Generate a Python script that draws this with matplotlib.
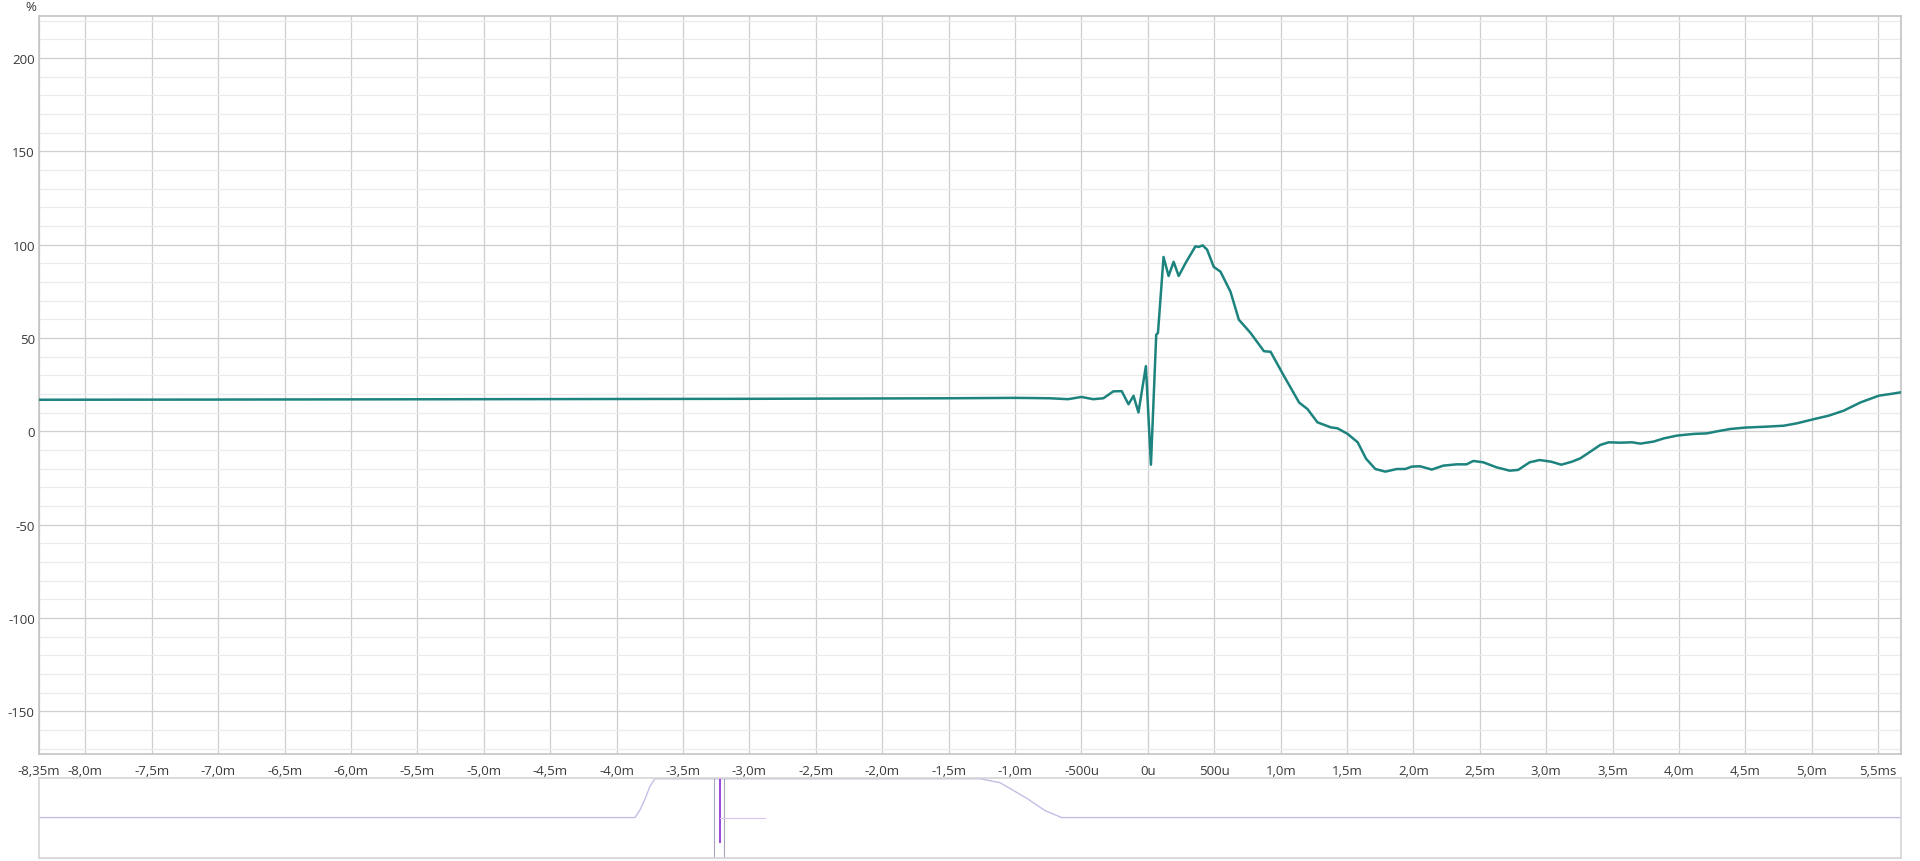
import matplotlib.pyplot as plt
import numpy as np
from matplotlib.ticker import MultipleLocator, FixedLocator

plt.rcParams["font.family"] = ["Open Sans", "DejaVu Sans"]
plt.rcParams["axes.unicode_minus"] = False

# main trace: time in ms, level in %
t_ms = [-8.35, -7.0, -6.0, -5.0, -4.0, -3.0, -2.0, -1.5, -1.0, -0.85, -0.739, -0.601,
        -0.5, -0.412, -0.335, -0.26, -0.197, -0.146, -0.108, -0.071, -0.015, 0.023,
        0.063, 0.076, 0.118, 0.156, 0.194, 0.232, 0.282, 0.358, 0.383, 0.413, 0.446,
        0.496, 0.547, 0.622, 0.685, 0.773, 0.874, 0.924, 1.025, 1.139, 1.202, 1.277,
        1.378, 1.428, 1.504, 1.58, 1.643, 1.713, 1.788, 1.875, 1.938, 1.988, 2.05,
        2.138, 2.225, 2.325, 2.4, 2.45, 2.525, 2.625, 2.725, 2.788, 2.875, 2.95,
        3.038, 3.113, 3.193, 3.256, 3.332, 3.407, 3.47, 3.558, 3.646, 3.709, 3.809,
        3.885, 3.985, 4.111, 4.211, 4.287, 4.387, 4.5, 4.663, 4.789, 4.889, 5.0,
        5.128, 5.241, 5.367, 5.505, 5.593, 5.671]
level = [16.9, 17.0, 17.1, 17.2, 17.3, 17.4, 17.6, 17.7, 17.9, 17.8, 17.7, 17.2,
         18.4, 17.2, 17.7, 21.4, 21.5, 14.5, 19.0, 10.1, 34.9, -17.9,
         51.8, 52.7, 93.4, 83.2, 90.8, 83.2, 89.9, 99.1, 98.8, 99.6, 97.3,
         88.1, 85.5, 74.8, 59.8, 52.7, 42.9, 42.6, 29.6, 15.4, 11.9, 4.8,
         2.1, 1.6, -1.4, -5.9, -14.7, -20.2, -21.6, -20.2, -20.2, -18.9, -18.75,
         -20.5, -18.4, -17.7, -17.7, -15.9, -16.6, -19.3, -21.1, -20.7, -16.6, -15.4,
         -16.3, -17.9, -16.3, -14.5, -10.9, -7.3, -5.9, -6.1, -5.9, -6.6, -5.5,
         -3.8, -2.3, -1.4, -1.1, 0.0, 1.25, 2.0, 2.5, 3.0, 4.3, 6.25,
         8.4, 11.1, 15.5, 19.1, 20.0, 20.9]

x_ticks = [-8.35, -8.0, -7.5, -7.0, -6.5, -6.0, -5.5, -5.0, -4.5, -4.0, -3.5, -3.0,
           -2.5, -2.0, -1.5, -1.0, -0.5, 0.0, 0.5, 1.0, 1.5, 2.0, 2.5, 3.0, 3.5,
           4.0, 4.5, 5.0, 5.5]
x_labels = ["-8,35m", "-8,0m", "-7,5m", "-7,0m", "-6,5m", "-6,0m", "-5,5m", "-5,0m",
            "-4,5m", "-4,0m", "-3,5m", "-3,0m", "-2,5m", "-2,0m", "-1,5m", "-1,0m",
            "-500u", "0u", "500u", "1,0m", "1,5m", "2,0m", "2,5m", "3,0m", "3,5m",
            "4,0m", "4,5m", "5,0m", "5,5ms"]
y_ticks = [200, 150, 100, 50, 0, -50, -100, -150]

# overview strip (fraction of full response, window amplitude)
ov_x = [0.0, 0.3201, 0.3228, 0.3255, 0.3281, 0.3308, 0.5054, 0.5161, 0.5304,
        0.5403, 0.5492, 1.0]
ov_window = [0, 0, 0.2, 0.48, 0.8, 1, 1, 0.9, 0.5, 0.18, 0, 0]
ov_spike_x = 0.366
ov_spike = [1.0, -0.64]
ov_box = [0.3627, 0.368]

grid_major = "#cfcfcf"
grid_minor = "#ebebeb"
txt = "#3a3a3a"

fig = plt.figure(figsize=(19.2, 8.62), dpi=100)
ax = fig.add_axes([0.0203, 0.1241, 0.9698, 0.8562])
ax.plot(t_ms, level, color="#1d837e", lw=1.8, zorder=3)
ax.set_xlim(-8.35, 5.671)
ax.set_ylim(-172.9, 222.5)

ax.xaxis.set_major_locator(FixedLocator(x_ticks))
ax.set_xticklabels(x_labels)
ax.yaxis.set_major_locator(FixedLocator(y_ticks))
ax.set_yticklabels([str(v) for v in y_ticks])
ax.yaxis.set_minor_locator(MultipleLocator(10))
ax.grid(which="major", color=grid_major, lw=0.9)
ax.grid(which="minor", axis="y", color=grid_minor, lw=0.9)
ax.tick_params(which="both", length=0, labelsize=9.5, colors=txt)
ax.tick_params(axis="x", pad=7)
ax.tick_params(axis="y", pad=3)
for s in ax.spines.values():
    s.set_color("#c4c4c4")
    s.set_linewidth(1.2)
ax.text(-0.0043, 1.004, "%", transform=ax.transAxes, ha="center", va="bottom",
        fontsize=9.5, color=txt)

ov = fig.add_axes([0.0203, 0.0031, 0.9698, 0.0932])
ov.plot(ov_x, ov_window, color="#c4bde6", lw=1.0)
for bx in ov_box:
    ov.plot([bx, bx], [-1.05, 1.05], color="#aaa4bd", lw=0.8)
ov.plot([ov_spike_x, ov_spike_x], ov_spike, color="#9a45d8", lw=1.4)
ov.plot([ov_spike_x, 0.39], [0, 0], color="#dcc4f0", lw=0.8)
ov.set_xlim(0, 1)
ov.set_ylim(-1.05, 1.02)
ov.set_xticks([])
ov.set_yticks([])
for s in ov.spines.values():
    s.set_color("#d4d4d4")
    s.set_linewidth(1.2)

fig.savefig("out.png", dpi=100, facecolor="white")
